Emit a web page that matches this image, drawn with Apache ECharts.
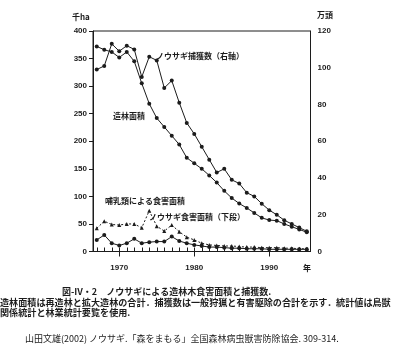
<!DOCTYPE html>
<html>
<head>
<meta charset="utf-8">
<script src="https://cdn.jsdelivr.net/npm/echarts@6/dist/echarts.min.js"></script>
<style>
  html, body { margin: 0; padding: 0; background: #fff; }
  #chart { width: 395px; height: 347px; }
</style>
</head>
<body>
<div id="chart"></div>
<script>
// 年次
const years = ['1967','1968','1969','1970','1971','1972','1973','1974','1975','1976',
  '1977','1978','1979','1980','1981','1982','1983','1984','1985','1986',
  '1987','1988','1989','1990','1991','1992','1993','1994','1995'];

// 造林面積（千ha, 左軸）
const plantingArea = [372, 366, 362, 352, 362, 345, 305, 268, 242, 226,
  210, 194, 170, 160, 150, 138, 125, 110, 97, 87,
  79, 70, 61, 57, 56, 50, 45, 40, 35];

// ノウサギ捕獲数（万頭, 右軸）
const hareCaught = [99, 101, 113, 109, 112, 110, 95, 106, 104, 89,
  93, 81, 70, 64, 57, 50, 43, 45, 39, 37,
  32, 30, 26, 22.5, 20, 17, 15, 13, 11];

// 哺乳類による食害面積（千ha, 左軸）
const mammalDamage = [42, 55, 49, 48, 50, 50, 43, 74, 46, 37,
  48, 36, 26, 21, 15, 12, 11, 10, 10, 9,
  8, 8, 7, 7, 7, 6, 6, 5, 5];

// ノウサギ食害面積（千ha, 左軸・下段）
const hareDamage = [21, 30, 15, 11, 15, 23, 15, 17, 18, 18,
  27, 19, 15, 12, 10, 8, 8, 7, 6, 6,
  5, 5, 5, 4, 4, 4, 4, 4, 4];

// 軸目盛
const leftTicks = { min: 0, max: 400, step: 50 };
const rightTicks = { min: 0, max: 120, step: 20 };
const decadeLabels = ['1970', '1980', '1990'];

const INK = '#1c1c1c';
const FONT = "'Liberation Sans', 'Noto Sans CJK JP', sans-serif";
const JP = "'Noto Sans CJK JP', sans-serif";

const chart = echarts.init(document.getElementById('chart'), null, { renderer: 'canvas' });

function txt(x, y, s, size, weight, align) {
  return {
    type: 'text', x: x, y: y,
    style: {
      text: s, fill: INK, font: (weight || 'bold') + ' ' + size + 'px ' + JP,
      textAlign: align || 'left', textVerticalAlign: 'middle'
    }
  };
}

const isDecade = (idx, val) => decadeLabels.indexOf(String(val)) >= 0;

const option = {
  backgroundColor: '#fff',
  animation: false,
  grid: {
    left: 93, right: 84.5, top: 31, bottom: 95.5,
    show: true, borderColor: INK, borderWidth: 1, backgroundColor: 'transparent'
  },
  xAxis: [
    {
      type: 'category', data: years, position: 'bottom', boundaryGap: true,
      axisLine: { show: true, lineStyle: { color: INK, width: 1 } },
      axisTick: { show: true, alignWithLabel: true, interval: isDecade, length: 5, inside: false,
        lineStyle: { color: INK, width: 1 } },
      axisLabel: { show: true, interval: isDecade, margin: 12,
        color: INK, fontSize: 8, fontWeight: 'bold', fontFamily: FONT },
      splitLine: { show: false }
    },
    {
      // 各年の内向き小目盛
      type: 'category', data: years, position: 'bottom', boundaryGap: true,
      axisLine: { show: false },
      axisTick: { show: true, alignWithLabel: true, interval: 0, length: 4, inside: true,
        lineStyle: { color: INK, width: 1 } },
      axisLabel: { show: false },
      splitLine: { show: false }
    }
  ],
  yAxis: [
    {
      type: 'value', position: 'left',
      min: leftTicks.min, max: leftTicks.max, interval: leftTicks.step,
      axisLine: { show: true, lineStyle: { color: INK, width: 1 } },
      axisTick: { show: true, length: 4, lineStyle: { color: INK, width: 1 } },
      axisLabel: { margin: 6, color: INK, fontSize: 8, fontWeight: 'bold', fontFamily: FONT },
      splitLine: { show: false }
    },
    {
      type: 'value', position: 'right',
      min: rightTicks.min, max: rightTicks.max, interval: rightTicks.step,
      axisLine: { show: true, lineStyle: { color: INK, width: 1 } },
      axisTick: { show: false },
      axisLabel: { margin: 7, color: INK, fontSize: 8, fontWeight: 'bold', fontFamily: FONT },
      splitLine: { show: false }
    }
  ],
  series: [
    {
      name: '造林面積', type: 'line', xAxisIndex: 0, yAxisIndex: 0, data: plantingArea,
      symbol: 'circle', symbolSize: 4, showSymbol: true,
      lineStyle: { color: INK, width: 1 }, itemStyle: { color: INK }, z: 3
    },
    {
      name: 'ノウサギ捕獲数', type: 'line', xAxisIndex: 0, yAxisIndex: 1, data: hareCaught,
      symbol: 'circle', symbolSize: 4, showSymbol: true,
      lineStyle: { color: INK, width: 1 }, itemStyle: { color: INK }, z: 3
    },
    {
      name: '哺乳類による食害面積', type: 'line', xAxisIndex: 0, yAxisIndex: 0, data: mammalDamage,
      symbol: 'triangle', symbolSize: 4, showSymbol: true,
      lineStyle: { color: INK, width: 1, type: [2, 2] }, itemStyle: { color: INK }, z: 3
    },
    {
      name: 'ノウサギ食害面積', type: 'line', xAxisIndex: 0, yAxisIndex: 0, data: hareDamage,
      symbol: 'circle', symbolSize: 4, showSymbol: true,
      lineStyle: { color: INK, width: 1 }, itemStyle: { color: INK }, z: 3
    }
  ],
  graphic: [
    // 軸の単位
    txt(72, 17, '千ha', 8),
    txt(317, 15, '万頭', 8),
    txt(303, 268, '年', 8),
    // 系列名
    txt(156, 56, 'ノウサギ捕獲数（右軸）', 8),
    txt(113, 116, '造林面積', 8),
    txt(105, 201, '哺乳類による食害面積', 8),
    txt(149, 217, 'ノウサギ食害面積（下段）', 8),
    // 図の説明
    txt(62, 292, '図-IV・2　ノウサギによる造林木食害面積と捕獲数.', 9),
    txt(0, 303, '造林面積は再造林と拡大造林の合計．捕獲数は一般狩猟と有害駆除の合計を示す．統計値は鳥獣', 9.1),
    txt(0, 313, '関係統計と林業統計要覧を使用.', 9.1),
    txt(25, 339, '山田文雄(2002) ノウサギ.「森をまもる」全国森林病虫獣害防除協会. 309-314.', 9, 'normal')
  ]
};

chart.setOption(option);
</script>
</body>
</html>
